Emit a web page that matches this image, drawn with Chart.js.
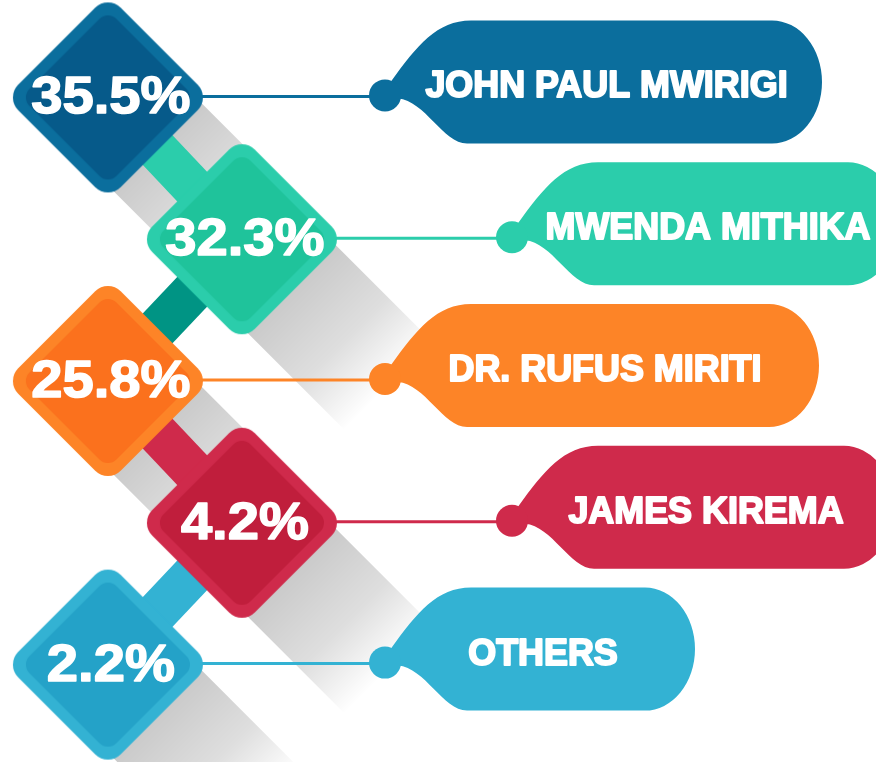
<!DOCTYPE html>
<html>
<head>
<meta charset="utf-8">
<script src="https://cdn.jsdelivr.net/npm/chart.js@4.4.1/dist/chart.umd.min.js"></script>
<style>
  html, body { margin: 0; padding: 0; background: #fff; }
  .wrap { width: 876px; height: 762px; }
</style>
</head>
<body>
<div class="wrap"><canvas id="myChart"></canvas></div>
<script>
// data
const candidates = ['JOHN PAUL MWIRIGI', 'MWENDA MITHIKA', 'DR. RUFUS MIRITI', 'JAMES KIREMA', 'OTHERS'];
const shares = [35.5, 32.3, 25.8, 4.2, 2.2];
const columns = [0, 1, 0, 1, 0]; // zig-zag column of each diamond

// colours
const outerColors = ['#0b6e9d', '#2bcdab', '#fd8427', '#cf2a4b', '#33b2d3'];
const innerColors = ['#065a8a', '#1fc39b', '#fb711d', '#c01e3c', '#24a2c8'];
const linkColors = ['#2bcdab', '#009484', '#cf2a4b', '#33b2d3'];

// tag layout (dot position per column, width of each tag)
const dotX = [385, 512];
const tagWidths = [437, 386, 434, 382, 310];

function diamondPath(ctx, cx, cy, half, r) {
  const s = (half - r) / Math.SQRT2 + r;
  ctx.save();
  ctx.translate(cx, cy);
  ctx.rotate(Math.PI / 4);
  ctx.beginPath();
  ctx.roundRect(-s, -s, 2 * s, 2 * s, r);
  ctx.restore();
}

function makeDiamond(outer, inner) {
  const c = document.createElement('canvas');
  c.width = 192; c.height = 192;
  const g = c.getContext('2d');
  diamondPath(g, 96, 96, 95, 18);
  g.fillStyle = outer;
  g.fill();
  diamondPath(g, 96, 96, 82, 12);
  g.fillStyle = inner;
  g.fill();
  return c;
}
const diamonds = outerColors.map((c, i) => makeDiamond(c, innerColors[i]));

function drawTag(ctx, dx, ly, w, color) {
  const top = ly - 77, bot = ly + 46, mid = (top + bot) / 2;
  const right = dx + w, rx = 50;
  ctx.fillStyle = color;
  ctx.beginPath();
  ctx.moveTo(dx + 6, ly - 16);
  ctx.bezierCurveTo(dx + 32, ly - 52, dx + 52, top, dx + 86, top);
  ctx.lineTo(right - rx, top);
  ctx.ellipse(right - rx, mid, rx, (bot - top) / 2, 0, -Math.PI / 2, Math.PI / 2);
  ctx.lineTo(dx + 82, bot);
  ctx.bezierCurveTo(dx + 58, bot, dx + 40, ly + 3, dx + 13, ly + 1);
  ctx.closePath();
  ctx.fill();
  ctx.beginPath();
  ctx.arc(dx, ly - 2, 16, 0, Math.PI * 2);
  ctx.fill();
}

const infographic = {
  id: 'infographic',
  beforeDatasetsDraw(chart) {
    const ctx = chart.ctx;
    const pts = chart.getDatasetMeta(0).data;
    ctx.save();
    // long shadows
    pts.forEach(p => {
      const k = 100;
      const mx = p.x + 47, my = p.y + 47;
      const grad = ctx.createLinearGradient(mx, my, mx + k, my + k);
      grad.addColorStop(0, 'rgba(0,0,0,0.21)');
      grad.addColorStop(0.55, 'rgba(0,0,0,0.13)');
      grad.addColorStop(1, 'rgba(0,0,0,0)');
      ctx.fillStyle = grad;
      ctx.beginPath();
      ctx.moveTo(p.x + 90, p.y + 2);
      ctx.lineTo(p.x + 90 + k, p.y + 2 + k);
      ctx.lineTo(p.x + 2 + k, p.y + 90 + k);
      ctx.lineTo(p.x + 2, p.y + 90);
      ctx.closePath();
      ctx.fill();
    });
    // connectors
    ctx.lineWidth = 42;
    ctx.lineCap = 'butt';
    for (let i = 0; i < pts.length - 1; i++) {
      ctx.strokeStyle = linkColors[i];
      ctx.beginPath();
      ctx.moveTo(pts[i].x, pts[i].y);
      ctx.lineTo(pts[i + 1].x, pts[i + 1].y);
      ctx.stroke();
    }
    // leader lines
    ctx.lineWidth = 3;
    pts.forEach((p, i) => {
      ctx.strokeStyle = outerColors[i];
      ctx.beginPath();
      ctx.moveTo(p.x, p.y - 1);
      ctx.lineTo(dotX[columns[i]], p.y - 1);
      ctx.stroke();
    });
    ctx.restore();
  },
  afterDatasetsDraw(chart) {
    const ctx = chart.ctx;
    const pts = chart.getDatasetMeta(0).data;
    ctx.save();
    pts.forEach((p, i) => {
      const dx = dotX[columns[i]];
      const w = tagWidths[i];
      drawTag(ctx, dx, p.y, w, outerColors[i]);

      // candidate name
      ctx.save();
      ctx.translate(dx + w / 2 + 3, p.y);
      ctx.scale(0.97, 1);
      ctx.font = 'bold 37px "Liberation Sans", Arial, sans-serif';
      ctx.textAlign = 'center';
      ctx.textBaseline = 'alphabetic';
      ctx.fillStyle = '#fff';
      ctx.strokeStyle = '#fff';
      ctx.lineWidth = 2;
      ctx.lineJoin = 'round';
      ctx.fillText(candidates[i], 0, 0);
      ctx.strokeText(candidates[i], 0, 0);
      ctx.restore();

      // percentage
      ctx.save();
      ctx.translate(p.x + 3, p.y + 16);
      ctx.scale(1.08, 1);
      ctx.font = 'bold 52px "Liberation Sans", Arial, sans-serif';
      ctx.textAlign = 'center';
      ctx.textBaseline = 'alphabetic';
      ctx.fillStyle = '#fff';
      ctx.strokeStyle = '#fff';
      ctx.lineWidth = 1.5;
      ctx.lineJoin = 'round';
      ctx.fillText(shares[i].toFixed(1) + '%', 0, 0);
      ctx.strokeText(shares[i].toFixed(1) + '%', 0, 0);
      ctx.restore();
    });
    ctx.restore();
  }
};

const ctx = document.getElementById('myChart');

new Chart(ctx, {
  type: 'scatter',
  data: {
    labels: candidates,
    datasets: [{
      label: 'share',
      data: shares.map((v, i) => ({ x: columns[i], y: i })),
      pointStyle: diamonds,
      pointRadius: 96,
      pointHoverRadius: 96,
      clip: false
    }]
  },
  options: {
    responsive: true,
    maintainAspectRatio: false,
    animation: false,
    events: [],
    layout: { padding: 0, autoPadding: false },
    scales: {
      x: { display: false, min: -0.805, max: 5.732 },
      y: { display: false, min: -0.687, max: 4.687, reverse: true }
    },
    plugins: {
      legend: { display: false },
      tooltip: { enabled: false }
    }
  },
  plugins: [infographic]
});
</script>
</body>
</html>
